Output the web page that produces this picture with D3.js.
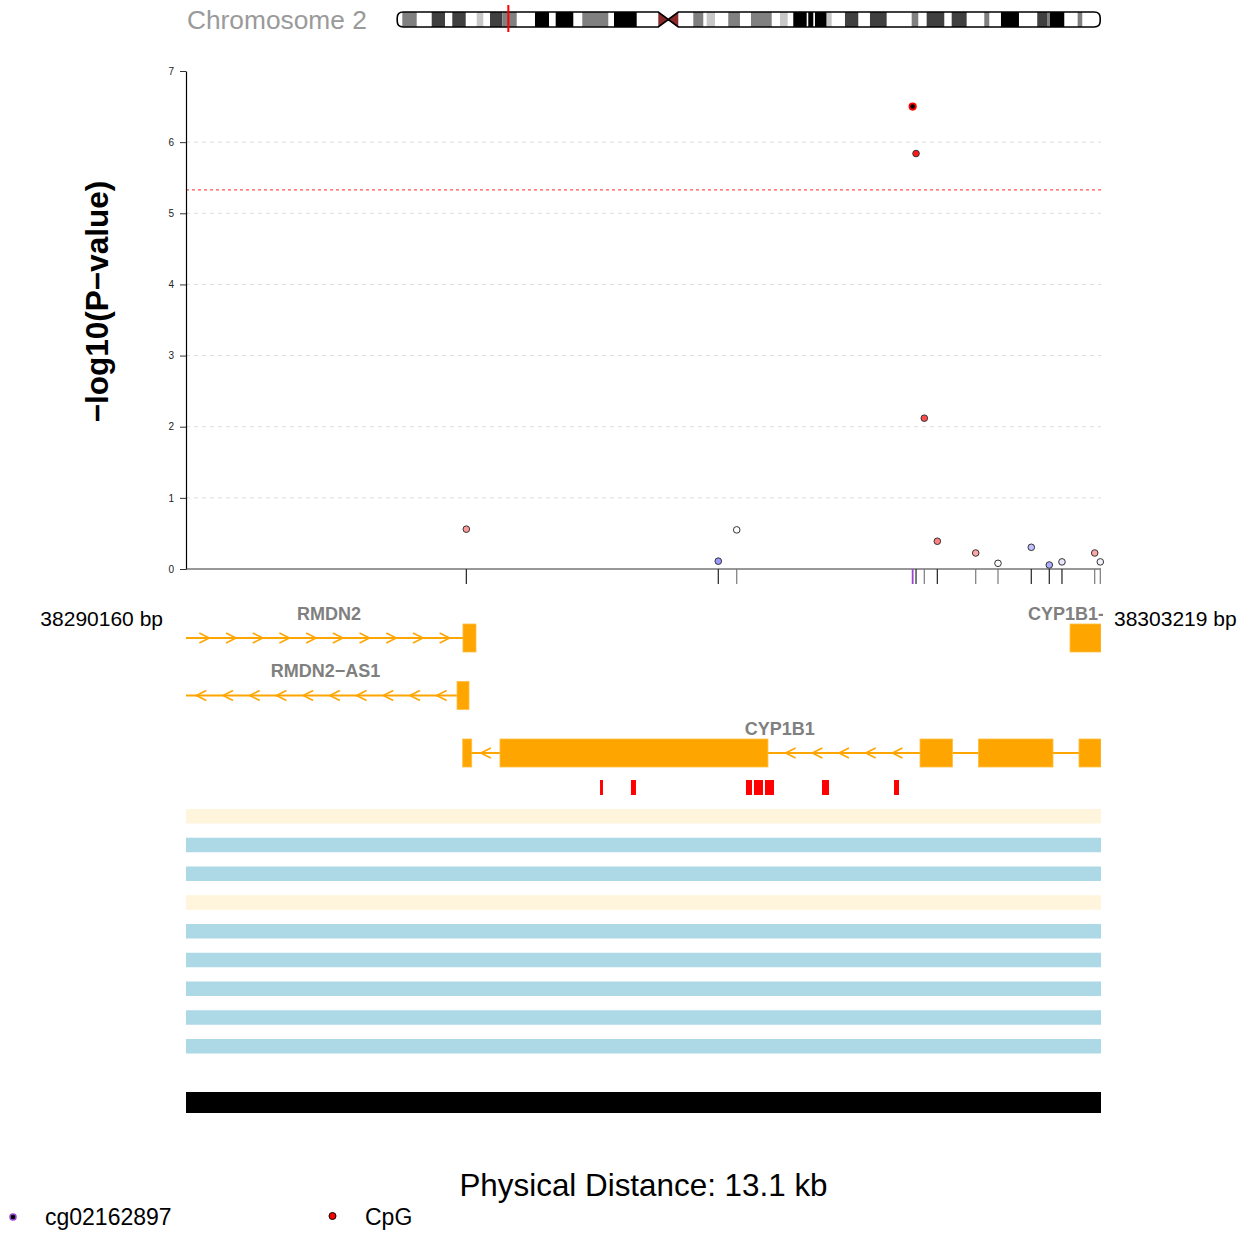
<!DOCTYPE html>
<html><head><meta charset="utf-8">
<script src="https://cdn.jsdelivr.net/npm/d3@7"></script>
<style>body{margin:0;background:#fff}</style>
</head><body>
<svg id="chart" width="1249" height="1233"></svg>
<script>
// ---------------- DATA ----------------
const regionStart = 38290160, regionEnd = 38303219;
const chromName = "Chromosome 2";
const chromLengthMb = 242.2;
const distanceLabel = "Physical Distance: 13.1 kb";
const yTicks = [0, 1, 2, 3, 4, 5, 6, 7];
const gridValues = [1, 2, 3, 4, 5, 6];
const threshold = 5.33;

// CpG sites (position, -log10 p, correlation with lead CpG)
const cpgPositions = [38294161, 38297757, 38298020, 38300531, 38300579, 38300697, 38300883,
                      38301431, 38301749, 38302224, 38302481, 38302662, 38303129, 38303209];
const cpgLogP = [0.56, 0.11, 0.55, 6.50, 5.84, 2.12, 0.39, 0.225, 0.08, 0.305, 0.056, 0.10, 0.225, 0.10];
const cpgCorr = [0.4, -0.4, 0.0, 1, 0.9, 0.7, 0.5, 0.35, 0.02, -0.25, -0.32, -0.1, 0.35, -0.05];
const cpgGroup = ["a", "a", "b", "lead", "a", "b", "a", "b", "b", "a", "a", "a", "b", "b"];
const leadName = "cg02162897";

// Genes
const geneNames = ["RMDN2", "RMDN2\u2212AS1", "CYP1B1", "CYP1B1-AS1"];
const geneStrands = ["+", "-", "-", "+"];
const geneStarts = [38200000, 38200000, 38294109, 38302777];
const geneEnds = [38294299, 38294199, 38320000, 38320000];
const geneRows = [0, 1, 2, 0];
const geneExons = [
  [[38294113, 38294299]],
  [[38294028, 38294199]],
  [[38294109, 38294238], [38294641, 38298466], [38300636, 38301100], [38301470, 38302534], [38302905, 38310000]],
  [[38302777, 38310000]]
];

// CpG island-like marks
const cpgMarkStarts = [38296069, 38296511, 38298152, 38298266, 38298423, 38299237, 38300265];
const cpgMarkEnds   = [38296111, 38296582, 38298238, 38298395, 38298552, 38299337, 38300336];

// Regulatory state tracks (one state per row)
const regStates = ["weak", "active", "active", "weak", "active", "active", "active", "active", "active"];

// Ideogram bands (Mb)
const bandStarts = [1.76, 11.89, 18.98, 27.39, 31.97, 36.21, 47.47, 54.60, 63.77, 74.69, 89.95, 93.39,
  102.01, 106.62, 114.06, 121.88, 131.87, 136.46, 141.62, 143.93, 147.96, 154.27, 162.88, 177.25,
  182.41, 191.03, 202.26, 208.01, 220.51, 224.10, 224.89, 234.43];
const bandEnds = [6.72, 16.47, 23.60, 29.66, 36.21, 41.17, 52.30, 60.67, 72.72, 82.51, 93.39, 96.84,
  105.45, 109.48, 118.09, 129.02, 134.53, 141.07, 143.35, 147.96, 149.69, 158.85, 168.63, 179.52,
  188.48, 196.19, 203.98, 214.21, 224.10, 224.89, 229.82, 236.02];
const bandStains = ["gpos50", "gpos75", "gpos75", "gpos25", "gpos75", "gpos50", "gpos100", "gpos100",
  "gpos50", "gpos100", "acen", "acen", "gpos50", "gpos25", "gpos50", "gpos50", "gpos25", "gpos100",
  "gpos100", "gpos100", "gpos25", "gpos75", "gpos75", "gpos50", "gpos75", "gpos75", "gpos50",
  "gpos100", "gpos75", "gpos50", "gpos100", "gpos50"];
const centromereMb = [89.95, 93.39, 96.84];

// ---------------- DRAWING ----------------
(function () {
const FONT = "'Liberation Sans', Arial, Helvetica, sans-serif";
const svg = d3.select("#chart").style("font-family", FONT);

const L = 186, R = 1101;
const x = d3.scaleLinear().domain([regionStart, regionEnd]).range([L, R]);
const y = d3.scaleLinear().domain([0, 7]).range([569, 71]);

// ----- Ideogram -----
const stainColor = {gpos25: "#c8c8c8", gpos50: "#808080", gpos75: "#404040", gpos100: "#000000", acen: "#8b2a2a"};
const ix = d3.scaleLinear().domain([0, chromLengthMb]).range([397.2, 1100.2]);
const iTop = 12, iBot = 27, iMid = 19.5, rr = 6;
const x0 = ix(0), x1 = ix(chromLengthMb);
const pE = ix(centromereMb[0]), cM = ix(centromereMb[1]), qS = ix(centromereMb[2]);
const outline = `M${x0 + rr},${iTop} H${pE} L${cM},${iMid} L${qS},${iTop} H${x1 - rr} Q${x1},${iTop} ${x1},${iTop + rr} V${iBot - rr} Q${x1},${iBot} ${x1 - rr},${iBot} H${qS} L${cM},${iMid} L${pE},${iBot} H${x0 + rr} Q${x0},${iBot} ${x0},${iBot - rr} V${iTop + rr} Q${x0},${iTop} ${x0 + rr},${iTop} Z`;
const defs = svg.append("defs");
defs.append("clipPath").attr("id", "chromClip").append("path").attr("d", outline);
defs.append("clipPath").attr("id", "plotClip").append("rect").attr("x", L).attr("y", 590).attr("width", R - L).attr("height", 200);
defs.append("clipPath").attr("id", "labelClip").append("rect").attr("x", 0).attr("y", 590).attr("width", 1103).attr("height", 200);

svg.append("text").attr("x", 187).attr("y", 29).attr("font-size", 26.3).attr("fill", "#9a9a9a").text(chromName);

const ig = svg.append("g");
ig.append("path").attr("d", outline).attr("fill", "#fff");
ig.append("g").attr("clip-path", "url(#chromClip)").selectAll("rect")
  .data(bandStarts.map((s, i) => ({s, e: bandEnds[i], st: bandStains[i]})))
  .join("rect")
  .attr("x", d => ix(d.s)).attr("width", d => ix(d.e) - ix(d.s))
  .attr("y", iTop).attr("height", iBot - iTop)
  .attr("fill", d => stainColor[d.st]);
ig.append("path").attr("d", outline).attr("fill", "none").attr("stroke", "#000").attr("stroke-width", 1.6);
ig.append("line").attr("x1", ix(regionStart / 1e6)).attr("x2", ix(regionStart / 1e6))
  .attr("y1", 5).attr("y2", 32).attr("stroke", "#ff0000").attr("stroke-width", 2);

// ----- Main plot -----
const grid = svg.append("g");
grid.selectAll("line").data(gridValues).join("line")
  .attr("x1", L).attr("x2", R).attr("y1", d => y(d)).attr("y2", d => y(d))
  .attr("stroke", "#dcdcdc").attr("stroke-dasharray", "4,4");
svg.append("line").attr("x1", L).attr("x2", R).attr("y1", y(threshold)).attr("y2", y(threshold))
  .attr("stroke", "#ff5555").attr("stroke-dasharray", "3,3").attr("stroke-width", 1.2);

const yAxis = svg.append("g").attr("transform", `translate(${L},0)`)
  .call(d3.axisLeft(y).tickValues(yTicks).tickSize(6).tickSizeOuter(0).tickPadding(6).tickFormat(d3.format("d")));
yAxis.selectAll("text").attr("font-size", 10).attr("fill", "#222").style("font-family", FONT);
yAxis.select(".domain").attr("stroke", "#000").attr("stroke-width", 1.2);
yAxis.selectAll(".tick line").attr("stroke", "#333");

svg.append("line").attr("x1", L).attr("x2", R).attr("y1", y(0)).attr("y2", y(0)).attr("stroke", "#333").attr("stroke-width", 1.2);

svg.append("text").attr("transform", `translate(108,301.5) rotate(-90)`).attr("text-anchor", "middle")
  .attr("font-size", 31.5).attr("font-weight", "bold").text("\u2212log10(P\u2212value)");

const cpgs = cpgPositions.map((p, i) => ({p, v: cpgLogP[i], c: cpgCorr[i], g: cpgGroup[i]}));
const tickColor = {a: "#222", b: "#7a7a7a", lead: "#9b45d6"};
svg.append("g").selectAll("line").data(cpgs).join("line")
  .attr("x1", d => x(d.p)).attr("x2", d => x(d.p)).attr("y1", y(0)).attr("y2", y(0) + 15)
  .attr("stroke", d => tickColor[d.g]).attr("stroke-width", d => d.g === "lead" ? 1.8 : 1.2);

const corrColor = d3.scaleLinear().domain([-1, 0, 1]).range(["#0000ff", "#ffffff", "#ff0000"]);
svg.append("g").selectAll("circle").data(cpgs).join("circle")
  .attr("cx", d => x(d.p)).attr("cy", d => y(d.v)).attr("r", d => d.g === "lead" ? 3.2 : 3.3)
  .attr("fill", d => d.g === "lead" ? "#000" : corrColor(d.c))
  .attr("stroke", d => d.g === "lead" ? "#ff0000" : "#333")
  .attr("stroke-width", d => d.g === "lead" ? 1.8 : 1);

// ----- Region labels -----
svg.append("text").attr("x", 163).attr("y", 625.5).attr("text-anchor", "end").attr("font-size", 21).text(regionStart + " bp");
svg.append("text").attr("x", 1114).attr("y", 625.5).attr("font-size", 21).text(regionEnd + " bp");

// ----- Genes -----
const ORANGE = "#ffa500";
const rowY = r => 638 + r * 57.5;
const gg = svg.append("g").attr("clip-path", "url(#plotClip)");
const lg = svg.append("g").attr("clip-path", "url(#labelClip)");
geneNames.forEach((name, i) => {
  const cy = rowY(geneRows[i]);
  const vs = Math.max(x(geneStarts[i]), L), ve = Math.min(x(geneEnds[i]), R);
  const exons = geneExons[i].map(e => [Math.max(x(e[0]), L), Math.min(x(e[1]), R)]).filter(e => e[1] > e[0]);
  gg.append("line").attr("x1", vs).attr("x2", ve).attr("y1", cy).attr("y2", cy)
    .attr("stroke", ORANGE).attr("stroke-width", 2);
  const sorted = exons.slice().sort((a, b) => a[0] - b[0]);
  const gaps = [];
  let cur = vs;
  sorted.forEach(e => { if (e[0] > cur) gaps.push([cur, e[0]]); cur = Math.max(cur, e[1]); });
  if (ve > cur) gaps.push([cur, ve]);
  const sp = 26.7, aw = 10;
  gaps.forEach(([a, b]) => {
    const n = Math.floor((b - a) / 26.8);
    if (n < 1) return;
    const tot = (n - 1) * sp + aw;
    const s0 = (a + b) / 2 - tot / 2;
    for (let k = 0; k < n; k++) {
      const l = s0 + k * sp;
      const d = geneStrands[i] === "+"
        ? `M${l},${cy - 5} L${l + aw},${cy} L${l},${cy + 5}`
        : `M${l + aw},${cy - 5} L${l},${cy} L${l + aw},${cy + 5}`;
      gg.append("path").attr("d", d).attr("fill", "none").attr("stroke", ORANGE).attr("stroke-width", 1.6);
    }
  });
  exons.forEach(e => {
    gg.append("rect").attr("x", e[0]).attr("width", e[1] - e[0]).attr("y", cy - 14).attr("height", 28)
      .attr("fill", ORANGE).attr("stroke", "#ffbf40").attr("stroke-width", 0.8);
  });
  lg.append("text").attr("x", (vs + ve) / 2 - 2).attr("y", cy - 24.5).attr("dy", "0.35em")
    .attr("text-anchor", "middle").attr("font-size", 18).attr("font-weight", "bold").attr("fill", "#808080").text(name);
});

// ----- CpG marks -----
svg.append("g").selectAll("rect").data(cpgMarkStarts.map((s, i) => [s, cpgMarkEnds[i]])).join("rect")
  .attr("x", d => x(d[0])).attr("width", d => x(d[1]) - x(d[0])).attr("y", 780).attr("height", 15)
  .attr("fill", "#ff0000");

// ----- Regulatory tracks -----
const stateColor = {weak: "#fff5dc", active: "#add8e6"};
svg.append("g").selectAll("rect").data(regStates).join("rect")
  .attr("x", L).attr("width", R - L).attr("y", (d, i) => 809 + i * 28.75).attr("height", 14.5)
  .attr("fill", d => stateColor[d]);

// ----- Black scale bar -----
svg.append("rect").attr("x", x(regionStart)).attr("width", x(regionEnd) - x(regionStart)).attr("y", 1092).attr("height", 21).attr("fill", "#000");

svg.append("text").attr("x", 643.5).attr("y", 1196).attr("text-anchor", "middle").attr("font-size", 31.4).text(distanceLabel);

// ----- Legend -----
svg.append("circle").attr("cx", 13).attr("cy", 1217).attr("r", 3).attr("fill", "#000").attr("stroke", "#9b45d6").attr("stroke-width", 1.5);
svg.append("text").attr("x", 45).attr("y", 1225).attr("font-size", 23).text(leadName);
svg.append("circle").attr("cx", 332.5).attr("cy", 1216).attr("r", 3.5).attr("fill", "#ff0000").attr("stroke", "#000").attr("stroke-width", 1);
svg.append("text").attr("x", 365).attr("y", 1225).attr("font-size", 23).text("CpG");
})();
</script>
</body></html>
